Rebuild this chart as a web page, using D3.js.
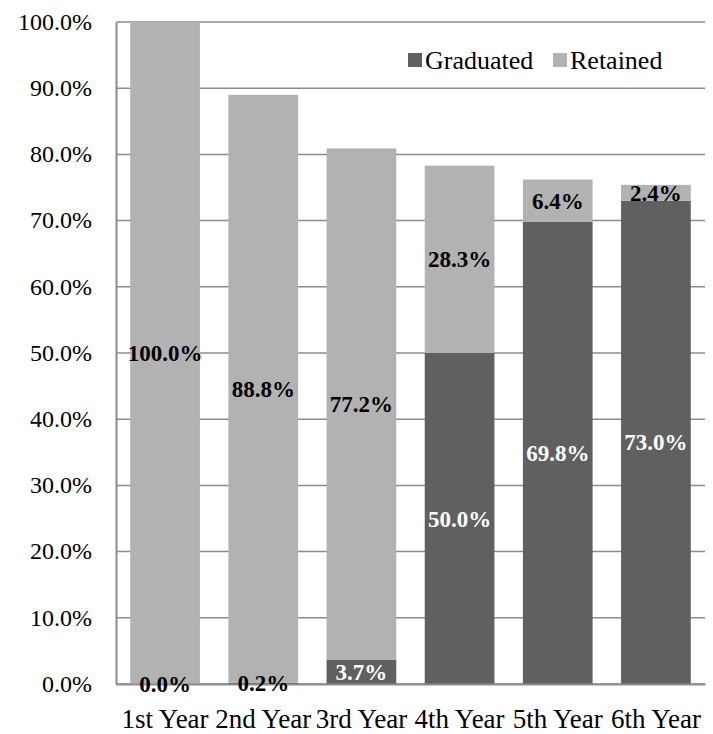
<!DOCTYPE html>
<html><head><meta charset="utf-8">
<script src="https://cdn.jsdelivr.net/npm/d3@7"></script>
<style>body{margin:0;background:#fff}svg{display:block}text{font-family:"Liberation Serif","Times New Roman",serif}</style>
</head><body><svg id="c" width="713" height="734"></svg>
<script>
const categories = ["1st Year","2nd Year","3rd Year","4th Year","5th Year","6th Year"];
const graduated = [0.0, 0.2, 3.7, 50.0, 69.8, 73.0];
const retained = [100.0, 88.8, 77.2, 28.3, 6.4, 2.4];
const seriesNames = ["Graduated","Retained"];
const yTicks = [0,10,20,30,40,50,60,70,80,90,100];

const colors = {Graduated:"#606060", Retained:"#b2b2b2"};
const svg = d3.select("#c");
const m = {left:116, right:8, top:22, bottom:50};
const W = 713, H = 734;
const x = d3.scaleBand().domain(categories).range([m.left, W-m.right]).paddingInner(0.29).paddingOuter(0.145);
const y = d3.scaleLinear().domain([0,100]).range([H-m.bottom, m.top]);

const rows = categories.map((c,i)=>({cat:c, Graduated:graduated[i], Retained:retained[i]}));
const stack = d3.stack().keys(seriesNames)(rows);

// gridlines
svg.append("g").selectAll("line").data(yTicks).join("line")
  .attr("x1", m.left).attr("x2", W-m.right)
  .attr("y1", d=>y(d)).attr("y2", d=>y(d))
  .attr("stroke","#8c8c8c").attr("stroke-width",1.5);

// bars
const g = svg.append("g");
stack.forEach(s=>{
  g.append("g").selectAll("rect").data(s).join("rect")
   .attr("x", d=>x(d.data.cat)).attr("width", x.bandwidth())
   .attr("y", d=>y(d[1])).attr("height", d=>y(d[0])-y(d[1]))
   .attr("fill", colors[s.key]);
});

// axes
const yAxis = d3.axisLeft(y).tickValues(yTicks).tickFormat(d=>d.toFixed(1)+"%").tickSize(0).tickPadding(24);
const ya = svg.append("g").attr("transform",`translate(${m.left},0)`).call(yAxis);
ya.attr("font-family",null);
ya.select(".domain").attr("stroke","#8c8c8c").attr("stroke-width",2);
ya.selectAll("text").attr("font-size",24).attr("fill","#000").attr("dy","0.3em");

const xAxis = d3.axisBottom(x).tickSize(0).tickPadding(0);
const xa = svg.append("g").attr("transform",`translate(0,${y(0)})`).call(xAxis);
xa.attr("font-family",null);
xa.select(".domain").attr("stroke","#8c8c8c").attr("stroke-width",2);
xa.selectAll("text").attr("font-size",27).attr("fill","#000").attr("y",44).attr("dy",0);

// labels
stack.forEach(s=>{
  svg.append("g").selectAll("text").data(s).join("text")
   .attr("x", d=>x(d.data.cat)+x.bandwidth()/2)
   .attr("y", d=>y((d[0]+d[1])/2))
   .attr("dy","0.35em")
   .attr("text-anchor","middle")
   .attr("font-size",23).attr("font-weight","bold")
   .attr("fill", d=> (s.key==="Graduated" && d.data.Graduated>1) ? "#fff" : "#000")
   .text(d=>(d[1]-d[0]).toFixed(1)+"%");
});

// legend
const lg = svg.append("g").attr("transform","translate(408,60)");
const legendX = [0, 145];
seriesNames.forEach((n,i)=>{
  const gi = lg.append("g").attr("transform",`translate(${legendX[i]},0)`);
  gi.append("rect").attr("x",0).attr("y",-7).attr("width",14).attr("height",14).attr("fill",colors[n]);
  gi.append("text").attr("x",17).attr("y",0).attr("dy","0.35em").attr("font-size",26).text(n);
});
</script></body></html>
